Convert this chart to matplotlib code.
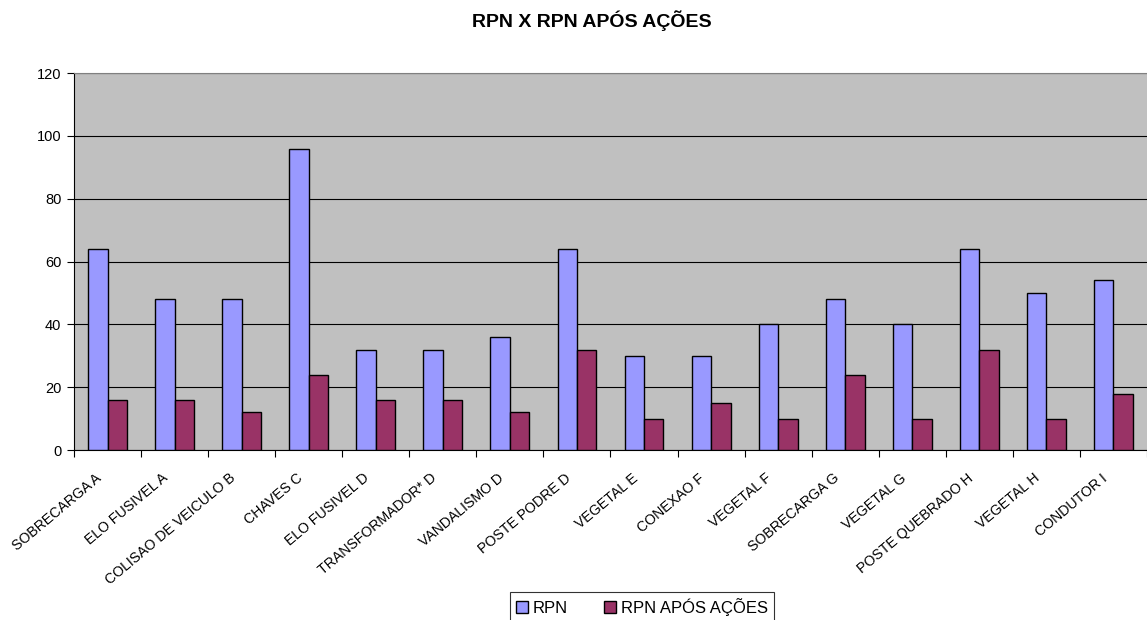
import matplotlib.pyplot as plt
import numpy as np

plt.rcParams['font.family'] = ['Liberation Sans', 'DejaVu Sans']

categorias = ['SOBRECARGA A', 'ELO FUSIVEL A', 'COLISAO DE VEICULO B', 'CHAVES C',
              'ELO FUSIVEL D', 'TRANSFORMADOR* D', 'VANDALISMO D', 'POSTE PODRE D',
              'VEGETAL E', 'CONEXAO F', 'VEGETAL F', 'SOBRECARGA G', 'VEGETAL G',
              'POSTE QUEBRADO H', 'VEGETAL H', 'CONDUTOR I']
rpn = [64, 48, 48, 96, 32, 32, 36, 64, 30, 30, 40, 48, 40, 64, 50, 54]
rpn_apos = [16, 16, 12, 24, 16, 16, 12, 32, 10, 15, 10, 24, 10, 32, 10, 18]

fig = plt.figure(figsize=(11.47, 6.2), dpi=100)
ax = fig.add_axes([0.0645, 0.274, 0.9355, 0.608])
ax.set_facecolor('#C0C0C0')

x = np.arange(len(categorias))
w = 0.29
ax.bar(x - w / 2, rpn, w, color='#9999FF', edgecolor='black', linewidth=1, label='RPN', zorder=3)
ax.bar(x + w / 2, rpn_apos, w, color='#993366', edgecolor='black', linewidth=1, label='RPN APÓS AÇÕES', zorder=3)

ax.set_xlim(-0.5, len(categorias) - 0.5)
ax.set_ylim(0, 120)
ax.set_yticks(range(0, 121, 20))
ax.yaxis.grid(True, color='black', linewidth=0.8, zorder=1)

# rótulos inclinados, ancorados um pouco à esquerda do centro de cada grupo
ax.set_xticks(x - 0.19)
ax.set_xticklabels(categorias, rotation=40, ha='right', va='top',
                   rotation_mode='anchor', fontsize=10.2)
ax.set_xticks(np.arange(-0.5, len(categorias), 1), minor=True)
ax.tick_params(axis='x', which='major', length=0, pad=15)
ax.tick_params(axis='x', which='minor', length=5, width=0.8, direction='out')
ax.tick_params(axis='y', length=5, width=0.8, labelsize=10.5, pad=4)

ax.spines['left'].set_color('black')
ax.spines['bottom'].set_color('black')
ax.spines['top'].set_color('#808080')
ax.spines['right'].set_visible(False)

fig.text(0.516, 0.966, 'RPN X RPN APÓS AÇÕES', ha='center', va='center',
         fontsize=14, fontweight='bold')

leg = fig.legend(loc='upper center', bbox_to_anchor=(0.5597, 0.045), ncol=2,
                 fontsize=12, frameon=True, fancybox=False, edgecolor='black',
                 handlelength=0.7, handleheight=0.7, handletextpad=0.3,
                 columnspacing=2.2, borderpad=0.35, borderaxespad=0)
leg.get_frame().set_linewidth(0.8)

plt.savefig('out.png', dpi=100)
